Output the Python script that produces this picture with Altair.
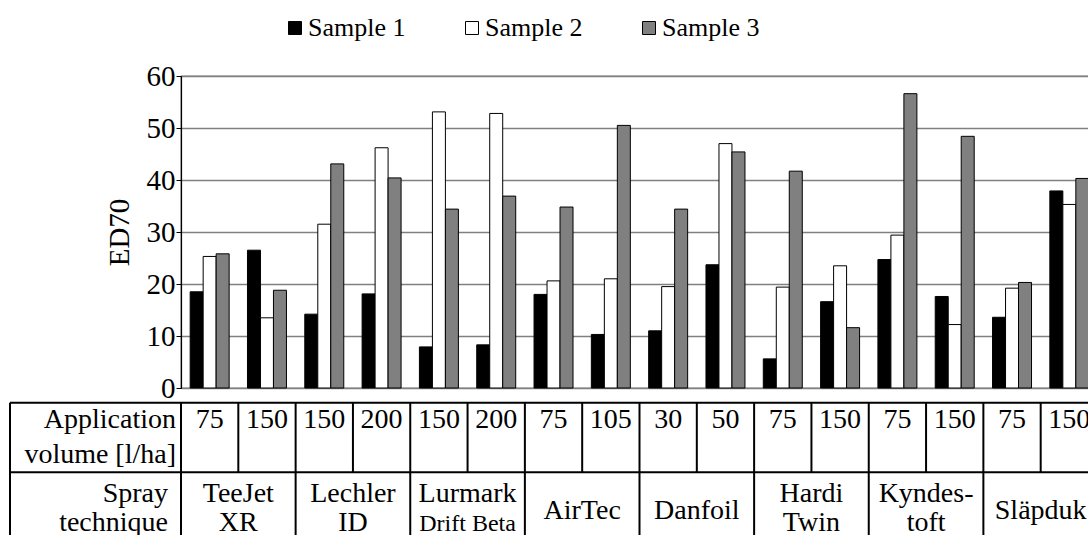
import altair as alt
import pandas as pd

FONT = "Liberation Serif"

# ---------------- data ----------------
samples = ["Sample 1", "Sample 2", "Sample 3"]
sample_colors = ["#000000", "#ffffff", "#808080"]

techniques = ["TeeJet XR", "Lechler ID", "Lurmark Drift Beta", "AirTec",
              "Danfoil", "Hardi Twin", "Kyndestoft", "Släpduk"]
tech_line1 = ["TeeJet", "Lechler", "Lurmark", "AirTec", "Danfoil", "Hardi", "Kyndes-", "Släpduk"]
tech_line2 = ["XR", "ID", "Drift Beta", "", "", "Twin", "toft", ""]

volumes = [75, 150, 150, 200, 150, 200, 75, 105, 30, 50, 75, 150, 75, 150, 75, 150]

sample1 = [18.5, 26.5, 14.2, 18.1, 7.9, 8.3, 18.0, 10.3, 11.0, 23.7, 5.6, 16.6, 24.7, 17.6, 13.6, 37.9]
sample2 = [25.3, 13.5, 31.5, 46.2, 53.1, 52.8, 20.6, 21.0, 19.5, 47.0, 19.4, 23.5, 29.4, 12.2, 19.2, 35.3]
sample3 = [25.8, 18.8, 43.1, 40.4, 34.4, 36.9, 34.8, 50.5, 34.4, 45.4, 41.7, 11.6, 56.6, 48.4, 20.3, 40.3]

y_ticks = [0, 10, 20, 30, 40, 50, 60]

# ---------------- tables ----------------
groups = [f"{techniques[i // 2]} {v}" for i, v in enumerate(volumes)]

rows = []
for s, vals in zip(samples, [sample1, sample2, sample3]):
    for g, v in zip(groups, vals):
        rows.append({"group": g, "sample": s, "value": v})
bars_df = pd.DataFrame(rows)

groups_df = pd.DataFrame({"group": groups, "volume": [str(v) for v in volumes]})
tech_df = pd.DataFrame({
    "group": [groups[2 * k] for k in range(len(techniques))],
    "line1": tech_line1,
    "line2": tech_line2,
})
one_df = pd.DataFrame({"k": [0]})

W, H = 917, 312
x_scale = alt.Scale(domain=groups, paddingInner=0, paddingOuter=0)

# ---------------- bars ----------------
bars = alt.Chart(bars_df).mark_bar(stroke="black", strokeWidth=1).encode(
    x=alt.X("group:N", sort=groups, scale=x_scale, title=None,
            axis=alt.Axis(labels=False, ticks=True, tickBand="extent", tickSize=5,
                          tickColor="black", domain=True, domainColor="black",
                          domainWidth=1.2, grid=False)),
    xOffset=alt.XOffset("sample:N", sort=samples,
                        scale=alt.Scale(domain=samples, paddingInner=0, paddingOuter=0.705)),
    y=alt.Y("value:Q", scale=alt.Scale(domain=[0, 60], nice=False),
            axis=alt.Axis(values=y_ticks, title="ED70", titleFontSize=29,
                          titleFontWeight="normal", titleColor="black", titleFont=FONT,
                          titlePadding=12, labelFont=FONT, labelFontSize=29,
                          labelColor="black", labelPadding=1, tickSize=5,
                          tickColor="black", domainColor="black", domainWidth=1.2,
                          grid=True, gridColor="#808080", gridWidth=1.5)),
    color=alt.Color("sample:N", sort=samples,
                    scale=alt.Scale(domain=samples, range=sample_colors),
                    legend=alt.Legend(orient="none", legendX=101, legendY=-61,
                                      direction="horizontal", title=None,
                                      symbolType="square", symbolSize=169,
                                      symbolStrokeColor="black", symbolStrokeWidth=1,
                                      labelFont=FONT, labelFontSize=26, labelColor="black",
                                      labelOffset=0, columnPadding=53, padding=0,
                                      labelLimit=300)),
)

line_col = "black"
lw = 2

# table horizontal lines
top_line = alt.Chart(one_df).mark_rule(color=line_col, strokeWidth=lw).encode(
    x=alt.value(-171), x2=alt.value(1100), y=alt.value(326.7))
mid_line = alt.Chart(one_df).mark_rule(color=line_col, strokeWidth=lw).encode(
    x=alt.value(-171), x2=alt.value(1100), y=alt.value(396.3))
left_line = alt.Chart(one_df).mark_rule(color=line_col, strokeWidth=lw).encode(
    x=alt.value(-171), y=alt.value(326.7), y2=alt.value(700))

# vertical dividers
div1 = alt.Chart(groups_df).mark_rule(color=line_col, strokeWidth=lw).encode(
    x=alt.X("group:N", sort=groups, scale=x_scale, bandPosition=0, axis=None),
    y=alt.value(326.7), y2=alt.value(396.3))
div2 = alt.Chart(tech_df).mark_rule(color=line_col, strokeWidth=lw).encode(
    x=alt.X("group:N", sort=groups, scale=x_scale, bandPosition=0, axis=None),
    y=alt.value(396.3), y2=alt.value(700))

txt = dict(font=FONT, fontSize=28, color="black")

vol_text = alt.Chart(groups_df).mark_text(baseline="alphabetic", align="center", **txt).encode(
    x=alt.X("group:N", sort=groups, scale=x_scale, bandPosition=0.5, axis=None),
    y=alt.value(352), text="volume:N")

row1a = alt.Chart(one_df).mark_text(baseline="alphabetic", align="right", **txt).encode(
    x=alt.value(-5), y=alt.value(352), text=alt.value("Application"))
row1b = alt.Chart(one_df).mark_text(baseline="alphabetic", align="right", **txt).encode(
    x=alt.value(-5), y=alt.value(387), text=alt.value("volume [l/ha]"))
row2a = alt.Chart(one_df).mark_text(baseline="alphabetic", align="right", **txt).encode(
    x=alt.value(-13), y=alt.value(426), text=alt.value("Spray"))
row2b = alt.Chart(one_df).mark_text(baseline="alphabetic", align="right", **txt).encode(
    x=alt.value(-13), y=alt.value(455), text=alt.value("technique"))

tech_x = alt.X("group:N", sort=groups, scale=x_scale, bandPosition=1, axis=None)

tech_single = alt.Chart(tech_df).transform_filter("datum.line2 == ''").mark_text(
    baseline="alphabetic", align="center", **txt).encode(
    x=tech_x, y=alt.value(443), text="line1:N")
tech_top = alt.Chart(tech_df).transform_filter("datum.line2 != ''").mark_text(
    baseline="alphabetic", align="center", **txt).encode(
    x=tech_x, y=alt.value(426), text="line1:N")
tech_bottom = alt.Chart(tech_df).transform_filter("datum.line2 != ''").mark_text(
    baseline="alphabetic", align="center", font=FONT, color="black").encode(
    x=tech_x, y=alt.value(455), text="line2:N",
    size=alt.condition("datum.line2 == 'Drift Beta'", alt.value(24), alt.value(28)))

chart = alt.layer(
    bars, top_line, mid_line, left_line, div1, div2, vol_text,
    row1a, row1b, row2a, row2b, tech_single, tech_top, tech_bottom,
).properties(
    width=W, height=H,
    autosize=alt.AutoSizeParams(type="none"),
    padding={"left": 181, "top": 76, "right": -10, "bottom": 147},
    background="white",
).configure(font=FONT).configure_view(stroke="black", strokeWidth=1.2)

chart.save("out.html", embed_options={"renderer": "svg", "actions": False})
